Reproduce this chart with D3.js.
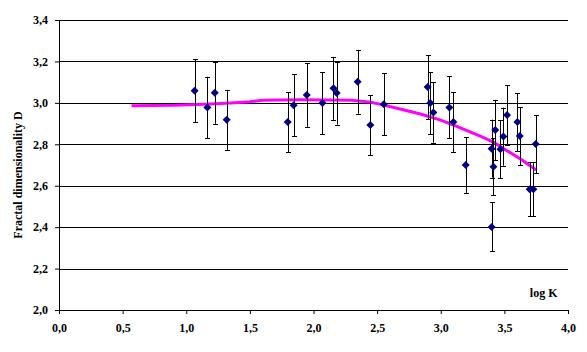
<!DOCTYPE html>
<html>
<head>
<meta charset="utf-8">
<script src="https://cdn.jsdelivr.net/npm/d3@7"></script>
<style>
  body { margin: 0; background: #fff; }
  text { font-family: "Liberation Serif", "Times New Roman", serif; font-weight: bold; }
</style>
</head>
<body>
<div class="chart"></div>
<script>
// measured points: log K, fractal dimension D, error (+/-)
const logK = [1.066, 1.166, 1.224, 1.318, 1.797, 1.844, 1.947, 2.07, 2.157, 2.182, 2.347, 2.447, 2.552,
  2.897, 2.918, 2.942, 3.068, 3.099, 3.196, 3.4, 3.414, 3.429, 3.469, 3.492, 3.521, 3.602, 3.621,
  3.699, 3.728, 3.746, 3.4];
const dim = [3.058, 2.978, 3.049, 2.918, 2.907, 2.989, 3.038, 2.999, 3.07, 3.047, 3.102, 2.893, 2.993,
  3.076, 2.999, 2.954, 2.978, 2.907, 2.70, 2.779, 2.692, 2.869, 2.776, 2.837, 2.941, 2.907, 2.84,
  2.583, 2.583, 2.801, 2.401];
const err = [0.152, 0.148, 0.15, 0.145, 0.145, 0.148, 0.154, 0.15, 0.152, 0.152, 0.154, 0.145, 0.15,
  0.154, 0.15, 0.147, 0.15, 0.145, 0.135, 0.14, 0.137, 0.145, 0.14, 0.14, 0.145, 0.14, 0.14,
  0.13, 0.13, 0.14, 0.118];

// fitted curve
const fitX = [0.57, 0.9, 1.15, 1.35, 1.5, 1.6, 1.9, 2.3, 2.45, 2.52, 2.68, 2.84, 3.0, 3.15, 3.31,
  3.42, 3.52, 3.63, 3.75];
const fitY = [2.986, 2.988, 2.993, 2.999, 3.005, 3.013, 3.015, 3.013, 3.003, 2.994, 2.970, 2.946,
  2.917, 2.880, 2.840, 2.808, 2.769, 2.728, 2.676];

const xTicks = [0, 0.5, 1, 1.5, 2, 2.5, 3, 3.5, 4];
const yTicks = [2.0, 2.2, 2.4, 2.6, 2.8, 3.0, 3.2, 3.4];

const points = logK.map((k, i) => ({ k: k, d: dim[i], e: err[i] }));
const fit = fitX.map((k, i) => ({ k: k, d: fitY[i] }));

const W = 587, H = 352;
const margin = { top: 20, right: 19, bottom: 42, left: 59 };
const width = W - margin.left - margin.right;
const height = H - margin.top - margin.bottom;

const fmt = (d) => d3.format(".1f")(d).replace(".", ",");

const svg = d3
  .select(".chart")
  .append("svg")
  .attr("width", W)
  .attr("height", H)
  .append("g")
  .attr("transform", `translate(${margin.left},${margin.top})`);

const x = d3.scaleLinear().domain([0, 4]).range([0, width]);
const y = d3.scaleLinear().domain([2, 3.4]).range([height, 0]);

// grid lines
svg
  .append("g")
  .selectAll("line")
  .data(yTicks.slice(1))
  .join("line")
  .attr("x1", 0)
  .attr("x2", width)
  .attr("y1", (d) => Math.round(y(d)) + 0.5)
  .attr("y2", (d) => Math.round(y(d)) + 0.5)
  .attr("stroke", "#000")
  .attr("stroke-width", 1);

// axes
const xAxis = d3.axisBottom(x).tickValues(xTicks).tickSize(4).tickPadding(9).tickFormat(fmt);
const yAxis = d3.axisLeft(y).tickValues(yTicks).tickSize(4).tickPadding(7).tickFormat(fmt);

const xGroup = svg
  .append("g")
  .attr("transform", `translate(0,${height})`)
  .call(xAxis);
const yGroup = svg.append("g").call(yAxis);

[xGroup, yGroup].forEach((g) => {
  g.selectAll("text").attr("font-size", "12px").attr("fill", "#000")
    .attr("font-family", "'Liberation Serif', serif").attr("font-weight", "bold");
  g.select(".domain").attr("stroke", "#000");
  g.selectAll(".tick line").attr("stroke", "#000");
});

// fitted curve
const line = d3
  .line()
  .x((d) => x(d.k))
  .y((d) => y(d.d));

svg
  .append("path")
  .datum(fit)
  .attr("fill", "none")
  .attr("stroke", "#ff00ff")
  .attr("stroke-width", 3)
  .attr("d", line);

// error bars
const bars = svg.append("g").attr("stroke", "#000").attr("stroke-width", 1);
bars
  .selectAll(".v")
  .data(points)
  .join("line")
  .attr("x1", (d) => Math.round(x(d.k)) + 0.5)
  .attr("x2", (d) => Math.round(x(d.k)) + 0.5)
  .attr("y1", (d) => y(d.d + d.e))
  .attr("y2", (d) => y(d.d - d.e));
bars
  .selectAll(".top")
  .data(points)
  .join("line")
  .attr("x1", (d) => Math.round(x(d.k)) - 2)
  .attr("x2", (d) => Math.round(x(d.k)) + 3)
  .attr("y1", (d) => Math.round(y(d.d + d.e)) + 0.5)
  .attr("y2", (d) => Math.round(y(d.d + d.e)) + 0.5);
bars
  .selectAll(".bot")
  .data(points)
  .join("line")
  .attr("x1", (d) => Math.round(x(d.k)) - 2)
  .attr("x2", (d) => Math.round(x(d.k)) + 3)
  .attr("y1", (d) => Math.round(y(d.d - d.e)) + 0.5)
  .attr("y2", (d) => Math.round(y(d.d - d.e)) + 0.5);

// markers
svg
  .append("g")
  .selectAll("path")
  .data(points)
  .join("path")
  .attr("transform", (d) => `translate(${x(d.k)},${y(d.d)})`)
  .attr("d", "M0,-4L4,0L0,4L-4,0Z")
  .attr("fill", "#000080");

// axis titles
svg
  .append("text")
  .attr("transform", `translate(${-37},${height / 2 + 10}) rotate(-90)`)
  .attr("text-anchor", "middle")
  .attr("font-size", "12px")
  .text("Fractal dimensionality D");

svg
  .append("text")
  .attr("x", x(3.7))
  .attr("y", height - 13)
  .attr("font-size", "12px")
  .text("log K");
</script>
</body>
</html>
